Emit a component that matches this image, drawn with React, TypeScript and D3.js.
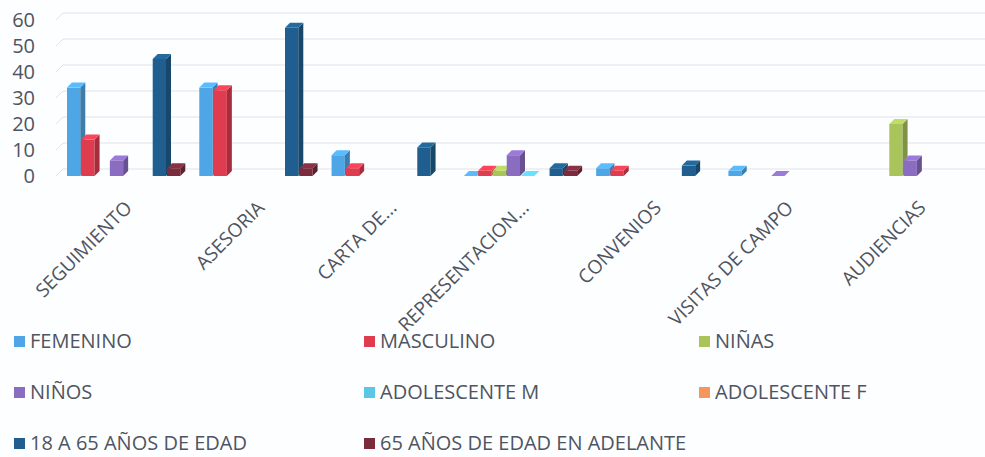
import React from "react";
import * as d3 from "d3";

const categories = [
  "SEGUIMIENTO",
  "ASESORIA",
  "CARTA DE...",
  "REPRESENTACION...",
  "CONVENIOS",
  "VISITAS DE CAMPO",
  "AUDIENCIAS",
];

const seriesNames = [
  "FEMENINO",
  "MASCULINO",
  "NIÑAS",
  "NIÑOS",
  "ADOLESCENTE M",
  "ADOLESCENTE F",
  "18 A 65 AÑOS DE EDAD",
  "65 AÑOS DE EDAD EN ADELANTE",
];

const seriesColors = [
  "#4ea6e6",
  "#e03c50",
  "#a9c45a",
  "#8a6cc0",
  "#5cc6e6",
  "#f7965a",
  "#1f5e8e",
  "#7a2c3c",
];

const femenino = [34, 34, 8, 0, 3, 2, null];
const masculino = [14, 33, 3, 2, 2, null, null];
const ninas = [null, null, null, 2, null, null, 20];
const ninos = [6, null, null, 8, null, 0, 6];
const adolescenteM = [null, null, null, 0, null, null, null];
const adolescenteF = [null, null, null, null, null, null, null];
const adultos = [45, 57, 11, 3, 4, null, null];
const mayores = [3, 3, null, 2, null, null, null];

const seriesValues: (number | null)[][] = [
  femenino,
  masculino,
  ninas,
  ninos,
  adolescenteM,
  adolescenteF,
  adultos,
  mayores,
];

const yTicks = [0, 10, 20, 30, 40, 50, 60];

const W = 985;
const H = 457;
const FONT = "'Open Sans', 'Liberation Sans', sans-serif";
const TEXT = "#4f5460";

export default function App() {
  const x = d3.scaleBand<string>().domain(categories).range([58, 984]).padding(0);
  const xs = d3
    .scaleBand<string>()
    .domain(seriesNames)
    .range([9, x.bandwidth() - 9])
    .padding(0);
  const y = d3.scaleLinear().domain([0, 60]).range([176, 20]);
  const d = 5;
  const bw = xs.bandwidth() - 1;
  const gOff = 7;

  const bars: React.ReactNode[] = [];
  categories.forEach((cat, ci) => {
    seriesNames.forEach((s, si) => {
      const v = seriesValues[si][ci];
      if (v === null || v === undefined) return;
      const x0 = (x(cat) ?? 0) + (xs(s) ?? 0);
      const y0 = y(0);
      const yv = y(v);
      const base = d3.color(seriesColors[si])!;
      const side = base.darker(0.8).formatHex();
      const top = base.brighter(0.35).formatHex();
      const key = `${ci}-${si}`;
      bars.push(
        <g key={key}>
          {v > 0 && (
            <rect x={x0} y={yv} width={bw} height={y0 - yv} fill={seriesColors[si]} />
          )}
          {v > 0 && (
            <polygon
              points={`${x0 + bw},${y0} ${x0 + bw + d},${y0 - d} ${x0 + bw + d},${yv - d} ${x0 + bw},${yv}`}
              fill={side}
            />
          )}
          <polygon
            points={`${x0},${yv} ${x0 + d},${yv - d} ${x0 + bw + d},${yv - d} ${x0 + bw},${yv}`}
            fill={top}
          />
        </g>
      );
    });
  });

  const legendCols = [14, 364, 699];
  const legendRows = [341, 392, 443];

  return (
    <svg
      width={W}
      height={H}
      style={{ position: "absolute", left: 0, top: 0, background: "#fdfeff" }}
    >
      <rect x={0} y={0} width={W} height={H} fill="#fdfeff" />
      {yTicks.map((t) => (
        <path
          key={"g" + t}
          d={`M56,${y(t)} L63,${y(t) - gOff} L985,${y(t) - gOff}`}
          fill="none"
          stroke="#dfe2e8"
          strokeWidth={1}
        />
      ))}
      {yTicks.map((t) => (
        <text
          key={"t" + t}
          x={35}
          y={y(t) + 7}
          textAnchor="end"
          fontFamily={FONT}
          fontSize={20}
          fill={TEXT}
        >
          {t}
        </text>
      ))}
      {bars}
      {categories.map((c) => {
        const cx = (x(c) ?? 0) + x.bandwidth() / 2 + 9;
        const cy = 209;
        return (
          <text
            key={"c" + c}
            transform={`translate(${cx},${cy}) rotate(-45)`}
            textAnchor="end"
            fontFamily={FONT}
            fontSize={19}
            fill={TEXT}
          >
            {c}
          </text>
        );
      })}
      {seriesNames.map((s, i) => {
        const lx = legendCols[i % 3];
        const ly = legendRows[Math.floor(i / 3)];
        return (
          <g key={"l" + s}>
            <rect x={lx} y={ly - 5} width={11} height={11} fill={seriesColors[i]} />
            <text
              x={lx + 16}
              y={ly + 7}
              fontFamily={FONT}
              fontSize={20}
              fill={TEXT}
            >
              {s}
            </text>
          </g>
        );
      })}
    </svg>
  );
}
